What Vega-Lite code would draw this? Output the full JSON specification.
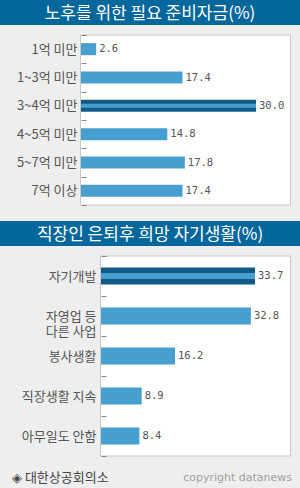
{
  "$schema": "https://vega.github.io/schema/vega-lite/v6.json",
  "background": "#eeeeee",
  "padding": 0,
  "spacing": 15,
  "config": {"view": {"stroke": null}, "font": "Noto Sans CJK KR"},
  "vconcat": [
    {
      "spacing": 10,
      "bounds": "flush",
      "vconcat": [
        {
          "width": 300,
          "height": 25,
          "view": {"fill": "#04679b", "stroke": null},
          "data": {"values": [{"t": "노후를 위한 필요 준비자금(%)"}]},
          "mark": {"type": "text", "color": "white", "fontSize": 17, "font": "Noto Sans CJK KR", "baseline": "middle", "dy": 1},
          "encoding": {"text": {"field": "t"}}
        },
        {
          "width": 290,
          "height": 170,
          "resolve": {"scale": {"y": "independent"}},
          "layer": [
            {
              "data": {"values": [{"box": 1}]},
              "mark": {"type": "rect", "fill": "white", "stroke": "#c8c8c8", "strokeWidth": 1},
              "encoding": {
                "x": {"datum": -0.0857, "type": "quantitative", "scale": {"domain": [-13.886, 35.829], "nice": false}},
                "x2": {"datum": 35.914}
              }
            },
            {
              "data": {"name": "d1"},
              "layer": [
                {
                  "mark": {"type": "bar", "height": {"band": 0.4235}},
                  "encoding": {
                    "y": {"field": "cat", "type": "nominal", "sort": null,
                      "scale": {"paddingInner": 0, "paddingOuter": 0},
                      "axis": {"title": null, "offset": -81, "domain": false, "tickBand": "extent", "tickSize": -5, "tickColor": "#888888", "labelPadding": 9, "labelFont": "Noto Sans CJK KR", "labelFontSize": 13, "labelColor": "#555555", "zindex": 1, "labelLimit": 200}},
                    "x": {"field": "v", "type": "quantitative", "axis": null, "scale": {"domain": [-13.886, 35.829], "nice": false}},
                    "color": {"condition": {"test": "datum.hl", "value": "#135b87"}, "value": "#479fcf"}
                  }
                },
                {
                  "transform": [{"filter": "datum.hl"}],
                  "mark": {"type": "bar", "height": {"band": 0.141}, "color": "#479fcf"},
                  "encoding": {
                    "y": {"field": "cat", "type": "nominal", "sort": null},
                    "x": {"field": "v", "type": "quantitative"}
                  }
                },
                {
                  "mark": {"type": "text", "align": "left", "baseline": "middle", "dx": 3, "font": "DejaVu Sans Mono", "fontSize": 10.5, "color": "#555555"},
                  "encoding": {
                    "y": {"field": "cat", "type": "nominal", "sort": null},
                    "x": {"field": "v", "type": "quantitative"},
                    "text": {"field": "v", "type": "quantitative", "format": ".1f"}
                  }
                }
              ]
            }
          ]
        }
      ]
    },
    {
      "spacing": 10,
      "bounds": "flush",
      "vconcat": [
        {
          "width": 300,
          "height": 25,
          "view": {"fill": "#04679b", "stroke": null},
          "data": {"values": [{"t": "직장인 은퇴후 희망 자기생활(%)"}]},
          "mark": {"type": "text", "color": "white", "fontSize": 17, "font": "Noto Sans CJK KR", "baseline": "middle", "dy": 1},
          "encoding": {"text": {"field": "t"}}
        },
        {
          "width": 290,
          "height": 200,
          "resolve": {"scale": {"y": "independent"}},
          "layer": [
            {
              "data": {"values": [{"box": 1}]},
              "mark": {"type": "rect", "fill": "white", "stroke": "#c8c8c8", "strokeWidth": 1},
              "encoding": {
                "x": {"datum": -0.1094, "type": "quantitative", "scale": {"domain": [-22.102, 41.359], "nice": false}},
                "x2": {"datum": 41.468}
              }
            },
            {
              "data": {"name": "d2"},
              "layer": [
                {
                  "mark": {"type": "bar", "height": {"band": 0.425}},
                  "encoding": {
                    "y": {"field": "cat", "type": "nominal", "sort": null,
                      "scale": {"paddingInner": 0, "paddingOuter": 0},
                      "axis": {"title": null, "offset": -101, "domain": false, "tickBand": "extent", "tickSize": -5, "tickColor": "#888888", "labelPadding": 10, "labelFont": "Noto Sans CJK KR", "labelFontSize": 13, "labelColor": "#555555", "zindex": 1, "labelLimit": 200, "labelExpr": "split(datum.label, '\\n')", "labelLineHeight": 15}},
                    "x": {"field": "v", "type": "quantitative", "axis": null, "scale": {"domain": [-22.102, 41.359], "nice": false}},
                    "color": {"condition": {"test": "datum.hl", "value": "#135b87"}, "value": "#479fcf"}
                  }
                },
                {
                  "transform": [{"filter": "datum.hl"}],
                  "mark": {"type": "bar", "height": {"band": 0.15}, "color": "#479fcf"},
                  "encoding": {
                    "y": {"field": "cat", "type": "nominal", "sort": null},
                    "x": {"field": "v", "type": "quantitative"}
                  }
                },
                {
                  "mark": {"type": "text", "align": "left", "baseline": "middle", "dx": 3, "font": "DejaVu Sans Mono", "fontSize": 10.5, "color": "#555555"},
                  "encoding": {
                    "y": {"field": "cat", "type": "nominal", "sort": null},
                    "x": {"field": "v", "type": "quantitative"},
                    "text": {"field": "v", "type": "quantitative", "format": ".1f"}
                  }
                }
              ]
            }
          ]
        },
        {
          "width": 300,
          "height": 23,
          "data": {"name": "foot"},
          "layer": [
            {
              "transform": [{"filter": "datum.side == 'L'"}],
              "mark": {"type": "text", "align": "left", "baseline": "middle", "dx": 12, "fontSize": 13, "font": "Noto Sans CJK KR", "color": "#444444"},
              "encoding": {
                "x": {"field": "side", "type": "nominal", "bandPosition": 0, "axis": null, "scale": {"type": "band", "domain": ["L", "R"], "paddingInner": 0, "paddingOuter": 0}},
                "text": {"field": "t"}
              }
            },
            {
              "transform": [{"filter": "datum.side == 'R'"}],
              "mark": {"type": "text", "align": "right", "baseline": "middle", "dx": -8, "fontSize": 11, "font": "DejaVu Sans", "color": "#a0a0a0"},
              "encoding": {
                "x": {"field": "side", "type": "nominal", "bandPosition": 1},
                "text": {"field": "t"}
              }
            }
          ]
        }
      ]
    }
  ],
  "datasets": {
    "d1": [
      {"cat": "1억 미만", "v": 2.6, "hl": false},
      {"cat": "1~3억 미만", "v": 17.4, "hl": false},
      {"cat": "3~4억 미만", "v": 30.0, "hl": true},
      {"cat": "4~5억 미만", "v": 14.8, "hl": false},
      {"cat": "5~7억 미만", "v": 17.8, "hl": false},
      {"cat": "7억 이상", "v": 17.4, "hl": false}
    ],
    "d2": [
      {"cat": "자기개발", "v": 33.7, "hl": true},
      {"cat": "자영업 등\n다른 사업", "v": 32.8, "hl": false},
      {"cat": "봉사생활", "v": 16.2, "hl": false},
      {"cat": "직장생활 지속", "v": 8.9, "hl": false},
      {"cat": "아무일도 안함", "v": 8.4, "hl": false}
    ],
    "foot": [
      {"side": "L", "t": "◈ 대한상공회의소"},
      {"side": "R", "t": "copyright datanews"}
    ]
  }
}
